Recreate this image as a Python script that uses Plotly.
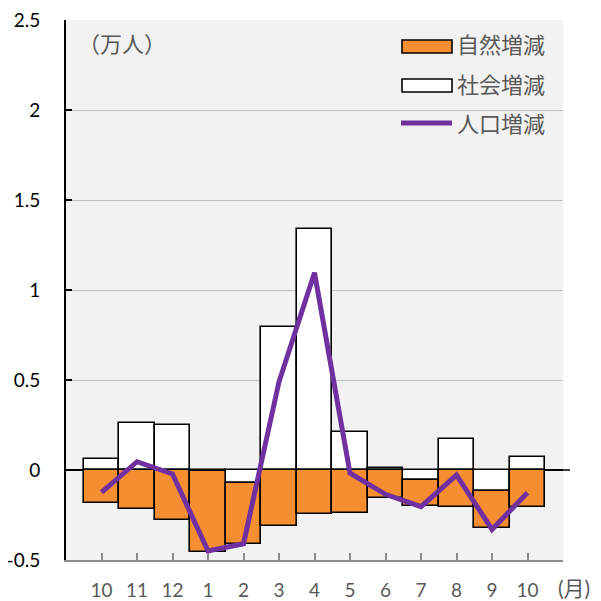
import plotly.graph_objects as go

months = ["10", "11", "12", "1", "2", "3", "4", "5", "6", "7", "8", "9", "10"]
natural = [-0.185, -0.219, -0.28, -0.45, -0.337, -0.309, -0.244, -0.237, -0.157, -0.143, -0.204, -0.209, -0.204]
social = [0.061, 0.263, 0.252, -0.005, -0.074, 0.796, 1.337, 0.213, 0.013, -0.056, 0.17, -0.115, 0.074]
population = [-0.124, 0.046, -0.022, -0.45, -0.41, 0.49, 1.096, -0.018, -0.135, -0.204, -0.028, -0.33, -0.126]
y_ticks = [-0.5, 0, 0.5, 1, 1.5, 2, 2.5]
y_ticklabels = ["-0.5", "0", "0.5", "1", "1.5", "2", "2.5"]
legend_names = ["自然増減", "社会増減", "人口増減"]

ORANGE = "#F58D31"
PURPLE = "#7030A0"
GREY_TXT = "#595959"
FONT = "Lato, Noto Sans CJK JP, sans-serif"

x = list(range(len(months)))

fig = go.Figure()
fig.add_trace(go.Bar(x=x, y=social, width=1, name=legend_names[1],
                     marker=dict(color="white", line=dict(color="black", width=1.6)),
                     showlegend=False))
fig.add_trace(go.Bar(x=x, y=natural, width=1, name=legend_names[0],
                     marker=dict(color=ORANGE, line=dict(color="black", width=1.6)),
                     showlegend=False))
fig.add_trace(go.Scatter(x=x, y=population, mode="lines", name=legend_names[2],
                         line=dict(color=PURPLE, width=5), showlegend=False))

# page offset (body margin) and target plot-area box in screen pixels
OFF = 8
FIG = 593
L, R, T, B = 66, 563, 20, 560
W = R - L
H = B - T


def px(v):
    return (v - L) / W


def py(v):
    return (B - v) / H


shapes = [
    dict(type="line", xref="paper", yref="y", x0=1.0, x1=px(570), y0=0, y1=0,
         line=dict(color="black", width=1.5), layer="above"),
    dict(type="rect", xref="paper", yref="paper", x0=px(402), x1=px(452), y0=py(53), y1=py(40),
         fillcolor=ORANGE, line=dict(color="black", width=1.6)),
    dict(type="rect", xref="paper", yref="paper", x0=px(402), x1=px(452), y0=py(92), y1=py(79),
         fillcolor="white", line=dict(color="black", width=1.6)),
    dict(type="line", xref="paper", yref="paper", x0=px(401), x1=px(452), y0=py(123), y1=py(123),
         line=dict(color=PURPLE, width=5)),
]

annotations = []
for name, yy in zip(legend_names, [45, 85, 124]):
    annotations.append(dict(xref="paper", yref="paper", x=px(455), y=py(yy), text=name,
                            showarrow=False, xanchor="left", yanchor="middle",
                            font=dict(size=22, color=GREY_TXT, family=FONT)))
annotations.append(dict(xref="paper", yref="paper", x=px(122), y=py(43), text="（万人）",
                        showarrow=False, xanchor="center", yanchor="middle",
                        font=dict(size=22, color=GREY_TXT, family=FONT)))
annotations.append(dict(xref="paper", yref="paper", x=px(574), y=py(587), text="(月)",
                        showarrow=False, xanchor="center", yanchor="middle",
                        font=dict(size=21, color=GREY_TXT, family=FONT)))

fig.update_layout(
    width=FIG, height=FIG,
    margin=dict(l=L - OFF, r=FIG - (R - OFF), t=T - OFF, b=FIG - (B - OFF), autoexpand=False),
    paper_bgcolor="white",
    plot_bgcolor="#F2F2F2",
    barmode="relative",
    bargap=0,
    shapes=shapes,
    annotations=annotations,
    font=dict(family=FONT),
    xaxis=dict(range=[-1, 13], tickmode="array",
               tickvals=list(range(-1, 14)),
               ticktext=[""] + months + [""],
               ticks="inside", ticklen=7, tickcolor="#8C8C8C", tickwidth=1.5,
               showline=True, linecolor="#8C8C8C", linewidth=2,
               showgrid=False, zeroline=False, automargin=False,
               tickfont=dict(size=19, color=GREY_TXT, family=FONT),
               ticklabelstandoff=12, ticklabeloverflow="allow"),
    yaxis=dict(range=[-0.5, 2.5], tickmode="array", tickvals=y_ticks, ticktext=y_ticklabels,
               ticks="inside", ticklen=6, tickcolor="black", tickwidth=1.5,
               showline=True, linecolor="black", linewidth=2,
               showgrid=True, gridcolor="#C0C0C0", gridwidth=1.2,
               zeroline=True, zerolinecolor="black", zerolinewidth=1.6, automargin=False,
               tickfont=dict(size=19, color="black", family=FONT),
               ticklabelstandoff=20, ticklabeloverflow="allow"),
)

fig.write_html("out.html")
